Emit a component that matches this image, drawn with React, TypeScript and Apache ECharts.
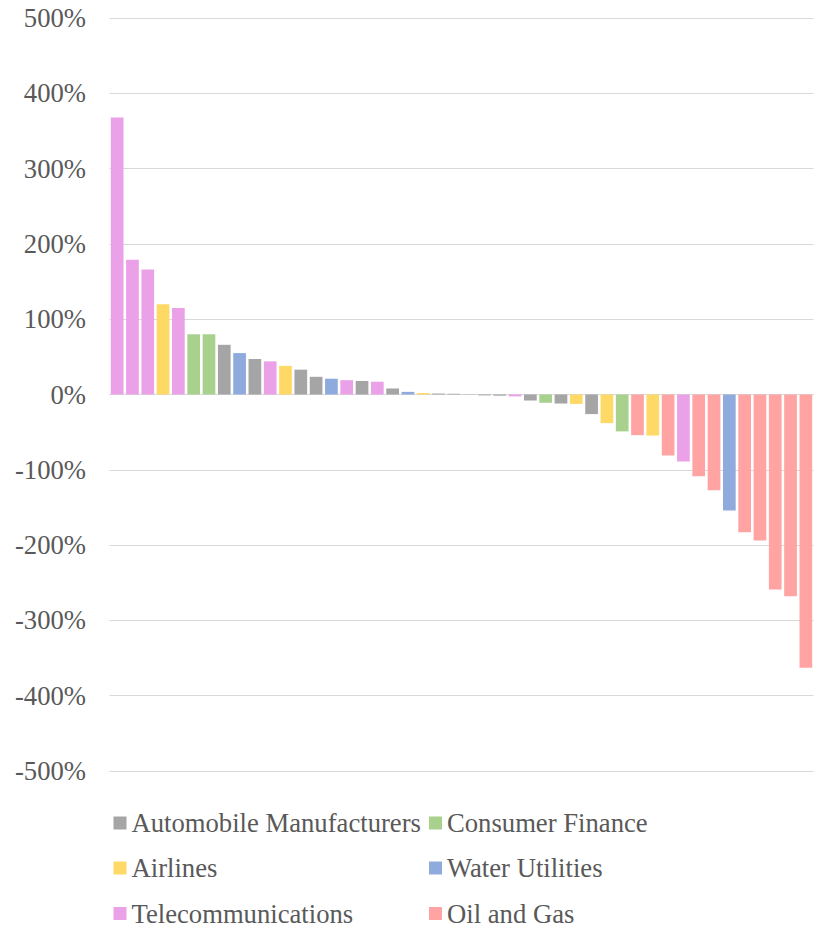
import React, { useEffect, useRef } from "react";
import * as echarts from "echarts";

// Sector names in legend order
const sectorNames = [
  "Automobile Manufacturers",
  "Consumer Finance",
  "Airlines",
  "Water Utilities",
  "Telecommunications",
  "Oil and Gas",
];

const sectorColors = ["#A5A5A5", "#A9D18E", "#FFD966", "#8FAADC", "#EAA1E8", "#FFA3A3"];

// Sector of each bar, left to right
const barSectors = [
  "Telecommunications", "Telecommunications", "Telecommunications", "Airlines", "Telecommunications",
  "Consumer Finance", "Consumer Finance", "Automobile Manufacturers", "Water Utilities", "Automobile Manufacturers",
  "Telecommunications", "Airlines", "Automobile Manufacturers", "Automobile Manufacturers", "Water Utilities",
  "Telecommunications", "Automobile Manufacturers", "Telecommunications", "Automobile Manufacturers", "Water Utilities",
  "Airlines", "Automobile Manufacturers", "Automobile Manufacturers", "Automobile Manufacturers", "Automobile Manufacturers",
  "Automobile Manufacturers", "Telecommunications", "Automobile Manufacturers", "Consumer Finance", "Automobile Manufacturers",
  "Airlines", "Automobile Manufacturers", "Airlines", "Consumer Finance", "Oil and Gas",
  "Airlines", "Oil and Gas", "Telecommunications", "Oil and Gas", "Oil and Gas",
  "Water Utilities", "Oil and Gas", "Oil and Gas", "Oil and Gas", "Oil and Gas",
  "Oil and Gas",
];

// Percentage change of each bar
const barValues = [
  368, 179, 166, 120, 115,
  80, 80, 66, 55, 47,
  44, 38, 33, 23.5, 21,
  19, 18, 17, 8, 3.5,
  2, 1.3, 1, 0.4, -1.2,
  -1.6, -2.5, -8, -11, -12,
  -12.5, -26, -38, -49, -54,
  -54.5, -81, -89, -108.5, -127,
  -154, -183, -194, -259, -268,
  -363,
];

const yTicks = { min: -500, max: 500, interval: 100 };

const FONT = "Liberation Serif";
const FONT_SIZE = 26.67;
const TEXT_COLOR = "#595959";

export default function App() {
  const ref = useRef<HTMLDivElement>(null);

  useEffect(() => {
    if (!ref.current) return;
    const chart = echarts.init(ref.current, undefined, { renderer: "svg" });
    const categories = barValues.map((_, i) => String(i + 1));

    const series = sectorNames.map((name, k) => ({
      name,
      type: "bar" as const,
      stack: "all",
      barCategoryGap: "17%",
      itemStyle: { color: sectorColors[k] },
      data: barValues.map((v, i) => (barSectors[i] === name ? v : "-")),
    }));

    // Legend laid out as a two-column grid, one component per entry
    const colLeft = [113.5, 429];
    const rowCenter = [823, 868, 913.5];
    const legends = sectorNames.map((name, k) => ({
      data: [name],
      left: colLeft[k % 2],
      top: rowCenter[Math.floor(k / 2)] - 15,
      padding: 0,
      icon: "rect",
      itemWidth: 13,
      itemHeight: 13,
      selectedMode: false,
      textStyle: { color: TEXT_COLOR, fontSize: FONT_SIZE, fontFamily: FONT, lineHeight: 30 },
    }));

    chart.setOption({
      animation: false,
      grid: { left: 109.5, right: 0.5, top: 18, bottom: 158 },
      legend: legends,
      xAxis: {
        type: "category",
        data: categories,
        boundaryGap: true,
        axisLine: { show: true, onZero: true, lineStyle: { color: "#D9D9D9", width: 1 } },
        axisTick: { show: false },
        axisLabel: { show: false },
      },
      yAxis: {
        type: "value",
        min: yTicks.min,
        max: yTicks.max,
        interval: yTicks.interval,
        axisLine: { show: false },
        axisTick: { show: false },
        splitLine: { lineStyle: { color: "#D9D9D9", width: 1 } },
        axisLabel: {
          formatter: "{value}%",
          margin: 23.5,
          color: TEXT_COLOR,
          fontSize: FONT_SIZE,
          fontFamily: FONT,
        },
      },
      series,
    });

    return () => chart.dispose();
  }, []);

  return (
    <div
      ref={ref}
      style={{ position: "fixed", left: 0, top: 0, width: 814, height: 929, background: "#fff" }}
    />
  );
}
